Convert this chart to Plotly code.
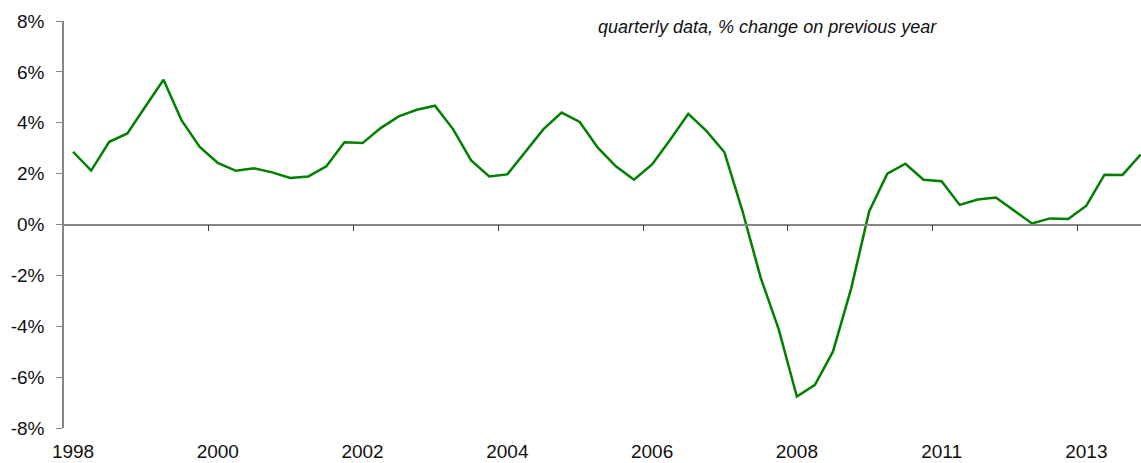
import plotly.graph_objects as go

# quarterly GDP growth, % change on previous year (60 quarters)
growth = [2.86, 2.12, 3.25, 3.58, 4.64, 5.69, 4.09, 3.05, 2.42, 2.11,
          2.21, 2.05, 1.83, 1.89, 2.29, 3.23, 3.20, 3.79, 4.25, 4.51,
          4.67, 3.75, 2.52, 1.89, 1.97, 2.85, 3.75, 4.40, 4.03, 3.02,
          2.29, 1.76, 2.36, 3.33, 4.35, 3.68, 2.84, 0.52, -2.09, -4.12,
          -6.76, -6.30, -4.99, -2.52, 0.52, 2.00, 2.39, 1.76, 1.70, 0.77,
          0.98, 1.06, 0.55, 0.04, 0.24, 0.22, 0.74, 1.96, 1.95, 2.75]
quarter_index = list(range(len(growth)))
tick_labels = ["1998", "2000", "2002", "2004", "2006", "2008", "2011", "2013"]
label_every = 8
y_ticks = [-8, -6, -4, -2, 0, 2, 4, 6, 8]

label_pos = [i * label_every for i in range(len(tick_labels))]
boundary_pos = [p - 0.5 for p in label_pos[1:]]

FONT = "Liberation Sans, Arial, sans-serif"
AXIS_GREY = "#868686"

fig = go.Figure()
fig.add_trace(go.Scatter(
    x=quarter_index, y=growth, mode="lines",
    line=dict(color="#008000", width=2.5),
    hoverinfo="x+y", showlegend=False,
))
# helper trace so the zero-line axis (x2) gets drawn
fig.add_trace(go.Scatter(
    x=[quarter_index[0]], y=[0], xaxis="x2", yaxis="y",
    mode="markers", marker=dict(opacity=0), showlegend=False, hoverinfo="skip",
))

xrange = [-0.5, quarter_index[-1] + 0.02]

fig.update_layout(
    width=1141, height=463, autosize=False,
    margin=dict(l=64, r=0, t=21, b=35, pad=0),
    paper_bgcolor="white", plot_bgcolor="white",
    font=dict(family=FONT, size=19, color="#111111"),
    xaxis=dict(
        range=xrange, showline=False, showgrid=False, zeroline=False,
        ticks="", tickmode="array", tickvals=label_pos, ticktext=tick_labels,
        tickfont=dict(family=FONT, size=19, color="#111111"),
        ticklabelstandoff=10,
    ),
    xaxis2=dict(
        range=xrange, overlaying="x", anchor="free", position=0.5,
        showline=True, linecolor=AXIS_GREY, linewidth=1.5,
        showgrid=False, zeroline=False,
        ticks="outside", ticklen=6, tickwidth=1.2, tickcolor="#404040",
        tickmode="array", tickvals=boundary_pos, showticklabels=False,
    ),
    yaxis=dict(
        range=[-8, 8], showline=True, linecolor=AXIS_GREY, linewidth=1.5,
        showgrid=False, zeroline=False,
        ticks="outside", ticklen=6, tickwidth=1.2, tickcolor=AXIS_GREY,
        tickmode="array", tickvals=y_ticks,
        ticktext=[f"{v}%" for v in y_ticks],
        tickfont=dict(family=FONT, size=19, color="#111111"),
        ticklabelstandoff=8,
    ),
    annotations=[dict(
        text="quarterly data, % change on previous year",
        xref="paper", yref="paper", x=0.6536, y=0.985,
        xanchor="center", yanchor="middle", showarrow=False,
        font=dict(family=FONT, size=18, color="#111111", style="italic"),
    )],
)

fig.write_html("out.html", config={"displayModeBar": False},
               post_script="document.body.style.margin='0';")
